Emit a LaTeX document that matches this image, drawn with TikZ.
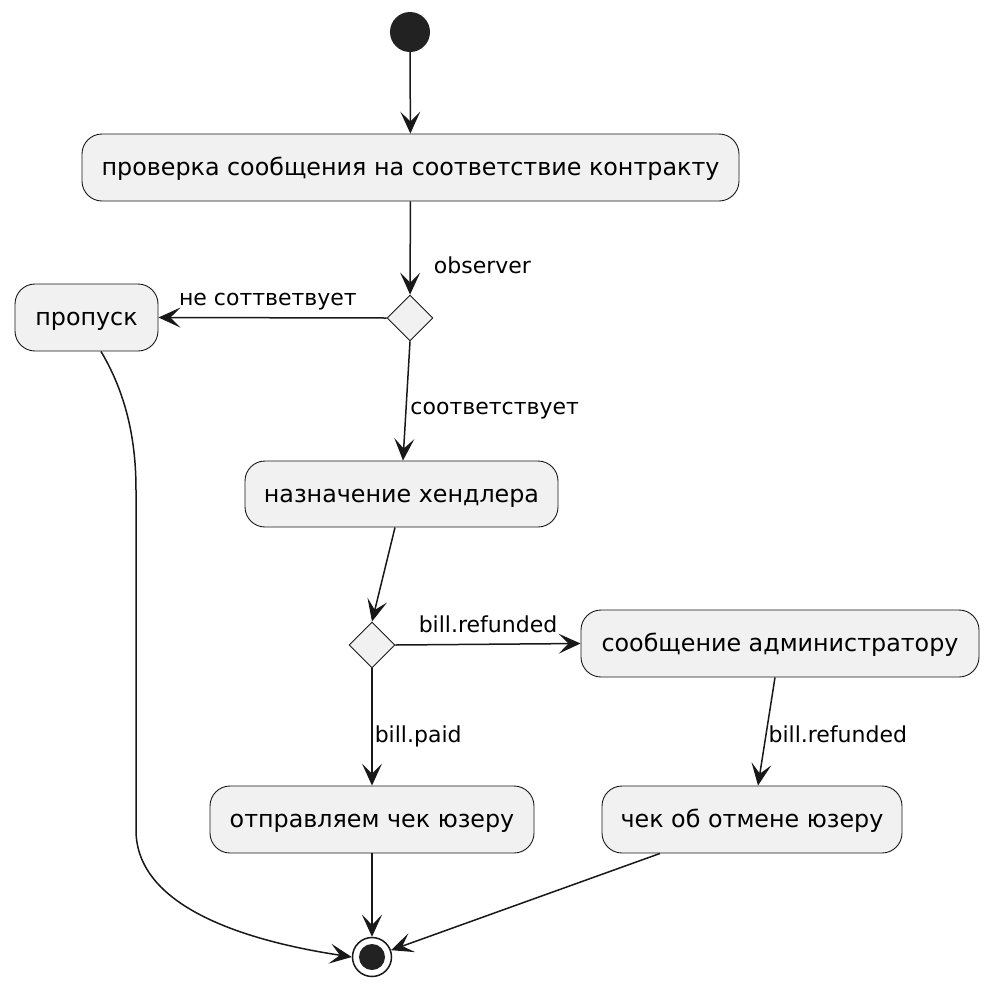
\documentclass[tikz,border=0pt]{standalone}
\usepackage{fontspec}
\setmainfont{DejaVu Sans}
\usetikzlibrary{positioning,shapes.geometric,arrows.meta,calc}
\definecolor{boxFill}{HTML}{F1F1F1}
\definecolor{lineColor}{HTML}{181818}
\definecolor{dotColor}{HTML}{222222}
\tikzset{
    action/.style={
        rectangle,
        rounded corners=20pt,
        draw=lineColor,
        fill=boxFill,
        line width=0.9pt,
        minimum height=67pt,
        inner xsep=4pt,
        text height=18pt,
        text depth=2pt,
        font=\fontsize{23.8}{29}\selectfont
    },
    choice/.style={
        diamond,
        shape aspect=1,
        draw=lineColor,
        fill=boxFill,
        line width=0.9pt,
        minimum width=46pt,
        minimum height=46pt,
        inner sep=0pt
    },
    ptr/.style={
        -{Stealth[length=22pt,width=20pt,inset=10pt]},
        draw=lineColor,
        line width=1.5pt
    },
    lbl/.style={
        font=\fontsize{22}{26}\selectfont,
        inner sep=0pt
    }
}

\begin{document}
\begin{tikzpicture}[x=1pt, y=-1pt]
    \useasboundingbox (0,0) rectangle (989,986);

    \node[circle, fill=dotColor, minimum size=40pt, inner sep=0pt] (start) at (410,32) {};
    \node[action, minimum width=657pt] (check) at (410.5,167.5) {проверка сообщения на соответствие контракту};
    \node[choice] (d1) at (410,318) {};
    \node[action, minimum width=143pt] (skip) at (86.5,317.5) {пропуск};
    \node[action, minimum width=313pt, minimum height=66pt] (assign) at (401.5,494) {назначение хендлера};
    \node[choice] (d2) at (372,645) {};
    \node[action, minimum width=398pt] (admin) at (780,643.5) {сообщение администратору};
    \node[action, minimum width=324pt] (paid) at (372,819.5) {отправляем чек юзеру};
    \node[action, minimum width=300pt] (refund) at (752,819.5) {чек об отмене юзеру};

    % конец
    \node[circle, draw=lineColor, line width=1.5pt, fill=white, minimum size=39pt, inner sep=0pt] (stop) at (372,957) {};
    \node[circle, fill=dotColor, minimum size=26pt, inner sep=0pt] (stopdot) at (stop) {};

    \draw[ptr] (start) -- (check);
    \draw[ptr] (check) -- (d1)
        node[lbl, pos=0.77, anchor=base west, xshift=23pt] {observer};
    \draw[ptr] (d1.west) -- (skip.east)
        node[lbl, pos=0.52, anchor=base, yshift=12pt] {не соттветвует};
    \draw[ptr] (d1.south) -- ([xshift=1.5pt]assign.north)
        node[lbl, pos=0.61, anchor=base west, xshift=4pt] {соответствует};
    \draw[ptr] ([xshift=-6.5pt]assign.south) -- (d2.north);
    \draw[ptr] (d2.east) -- (admin.west)
        node[lbl, pos=0.5, anchor=base, yshift=12pt] {bill.refunded};
    \draw[ptr] (d2.south) -- (paid.north)
        node[lbl, pos=0.63, anchor=base west, xshift=2pt] {bill.paid};
    \draw[ptr] ([xshift=-5pt]admin.south) -- ([xshift=6pt]refund.north)
        node[lbl, pos=0.6, anchor=base west, xshift=3pt] {bill.refunded};

    % в финал
    \draw[ptr] (paid) -- (stop);
    \draw[ptr] ([xshift=-92pt]refund.south) -- (stop);
    \draw[ptr] ([xshift=14.5pt]skip.south) .. controls (130,400) and (136,450) .. (136,490)
        -- (136,830) .. controls (136,905) and (240,940) .. (stop.west);
\end{tikzpicture}
\end{document}
